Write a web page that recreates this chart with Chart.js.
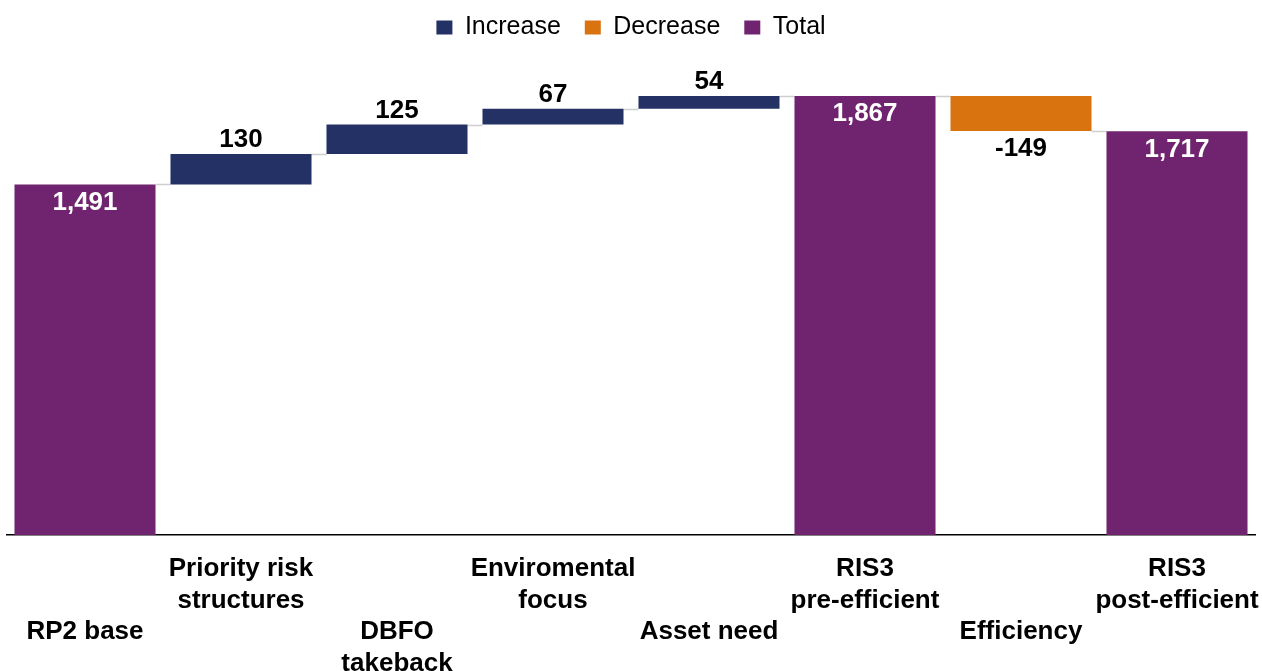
<!DOCTYPE html>
<html>
<head>
<meta charset="utf-8">
<script src="https://cdn.jsdelivr.net/npm/chart.js@4/dist/chart.umd.min.js"></script>
<style>
  html, body { margin: 0; padding: 0; background: #fff; }
  #wrap { width: 1262px; height: 671px; position: relative; }
</style>
</head>
<body>
<div id="wrap"><canvas id="chart"></canvas></div>
<script>
// ---- data ----
const categories = [
  'RP2 base', 'Priority risk structures', 'DBFO takeback', 'Enviromental focus',
  'Asset need', 'RIS3 pre-efficient', 'Efficiency', 'RIS3 post-efficient'
];
// axis labels: every other one is pushed down two lines so they don't collide
const tickLabels = [
  ['', '', 'RP2 base'],
  ['Priority risk', 'structures'],
  ['', '', 'DBFO', 'takeback'],
  ['Enviromental', 'focus'],
  ['', '', 'Asset need'],
  ['RIS3', 'pre-efficient'],
  ['', '', 'Efficiency'],
  ['RIS3', 'post-efficient']
];
const increaseValues = [null, 130, 125, 67, 54, null, null, null];
const decreaseValues = [null, null, null, null, null, null, -149, null];
const totalValues    = [1491, null, null, null, null, 1867, null, 1717];

const COL_INC = '#243165';
const COL_DEC = '#D97310';
const COL_TOT = '#70246F';
const FONT = '"Liberation Sans", Arial, sans-serif';

// running level -> floating [from, to] ranges
const incBars = [], decBars = [], totBars = [], levelAfter = [];
let level = 0;
categories.forEach((_, i) => {
  incBars.push(null); decBars.push(null); totBars.push(null);
  if (totalValues[i] != null) {
    totBars[i] = [0, totalValues[i]];
    level = totalValues[i];
  } else if (increaseValues[i] != null) {
    incBars[i] = [level, level + increaseValues[i]];
    level += increaseValues[i];
  } else if (decreaseValues[i] != null) {
    decBars[i] = [level, level + decreaseValues[i]];
    level += decreaseValues[i];
  }
  levelAfter.push(level);
});

function barEl(chart, i) {
  for (let d = 0; d < chart.data.datasets.length; d++) {
    if (chart.data.datasets[d].data[i] != null) return chart.getDatasetMeta(d).data[i];
  }
  return null;
}

// thin grey step lines between neighbouring bars
const connectors = {
  id: 'connectors',
  beforeDatasetsDraw(chart) {
    const { ctx } = chart;
    const y = chart.scales.y;
    ctx.save();
    ctx.strokeStyle = '#cfcfcf';
    ctx.lineWidth = 1.5;
    for (let i = 0; i < categories.length - 1; i++) {
      const a = barEl(chart, i), b = barEl(chart, i + 1);
      if (!a || !b) continue;
      const py = Math.round(y.getPixelForValue(levelAfter[i])) + 0.5;
      ctx.beginPath();
      ctx.moveTo(a.x + a.width / 2, py);
      ctx.lineTo(b.x - b.width / 2, py);
      ctx.stroke();
    }
    ctx.restore();
  }
};

// value labels
const valueLabels = {
  id: 'valueLabels',
  afterDatasetsDraw(chart) {
    const { ctx } = chart;
    ctx.save();
    ctx.font = 'bold 26px ' + FONT;
    ctx.textAlign = 'center';
    ctx.textBaseline = 'middle';
    categories.forEach((_, i) => {
      const el = barEl(chart, i);
      if (!el) return;
      const top = Math.min(el.y, el.base), bottom = Math.max(el.y, el.base);
      if (totalValues[i] != null) {
        ctx.fillStyle = '#ffffff';
        ctx.fillText(totalValues[i].toLocaleString('en-GB'), el.x, top + 18);
      } else if (increaseValues[i] != null) {
        ctx.fillStyle = '#000000';
        ctx.fillText(increaseValues[i].toLocaleString('en-GB'), el.x, top - 14);
      } else {
        ctx.fillStyle = '#000000';
        ctx.fillText(decreaseValues[i].toLocaleString('en-GB'), el.x, bottom + 18);
      }
    });
    ctx.restore();
  }
};

const common = { grouped: false, barPercentage: 0.904, categoryPercentage: 1, borderWidth: 0 };

new Chart(document.getElementById('chart'), {
  type: 'bar',
  data: {
    labels: tickLabels,
    datasets: [
      { label: 'Increase', data: incBars, backgroundColor: COL_INC, ...common },
      { label: 'Decrease', data: decBars, backgroundColor: COL_DEC, ...common },
      { label: 'Total', data: totBars, backgroundColor: COL_TOT, ...common }
    ]
  },
  options: {
    responsive: true,
    maintainAspectRatio: false,
    animation: false,
    layout: { padding: { left: 7, right: 7, top: -9, bottom: 0 } },
    plugins: {
      legend: {
        position: 'top',
        labels: {
          color: '#000',
          font: { family: FONT, size: 25 },
          boxWidth: 16, boxHeight: 14,
          padding: 24
        }
      },
      tooltip: { enabled: false }
    },
    scales: {
      x: {
        grid: { display: false, drawTicks: false },
        border: { display: true, color: '#000', width: 1.5 },
        ticks: {
          color: '#000',
          font: { family: FONT, size: 26, weight: 'bold', lineHeight: 1.22 },
          padding: 18,
          maxRotation: 0, autoSkip: false
        },
        afterFit(scale) {
          scale.height = 136;
          scale.paddingLeft = 0;
          scale.paddingRight = 0;
        }
      },
      y: {
        display: false,
        min: 0, max: 2063
      }
    }
  },
  plugins: [connectors, valueLabels]
});
</script>
</body>
</html>
